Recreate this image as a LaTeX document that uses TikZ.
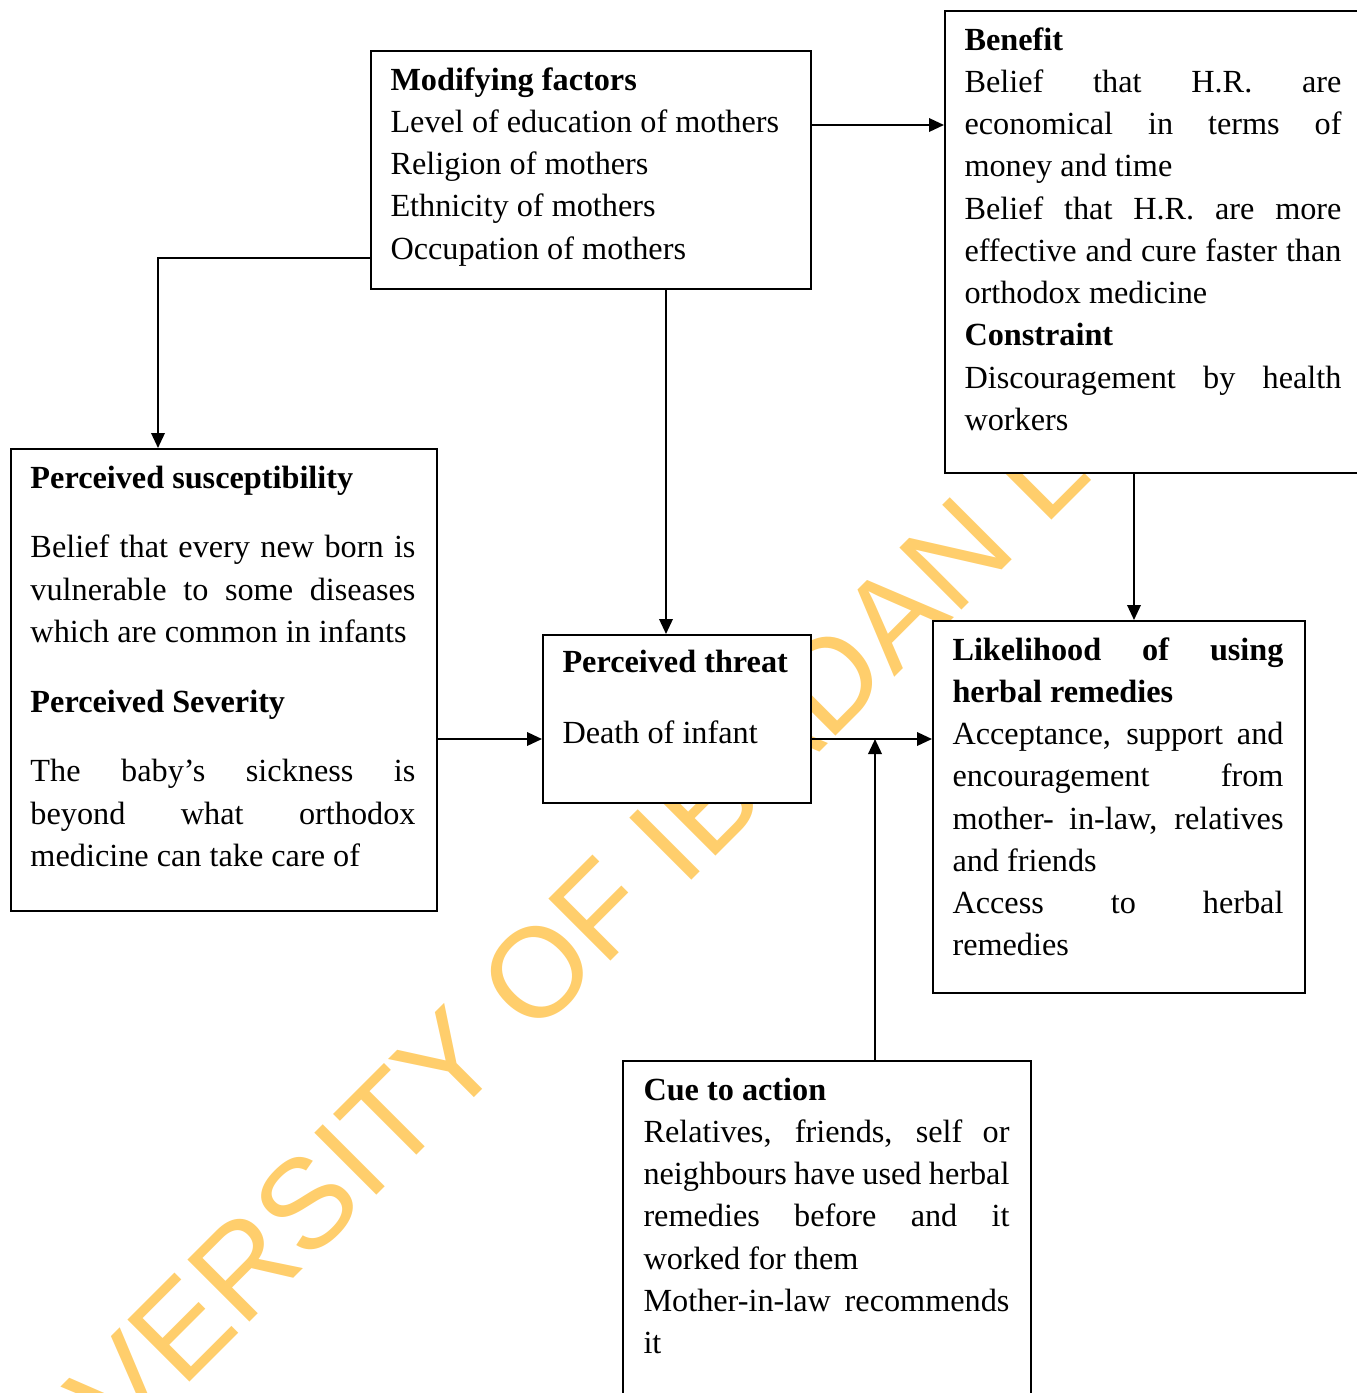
\documentclass[tikz,border=0pt]{standalone}
\usepackage{fontspec}
\setmainfont{Liberation Serif}
\newfontfamily\wmfont{Liberation Sans}
\usetikzlibrary{arrows.meta, positioning}
\definecolor{wmorange}{RGB}{255,206,108}
\setlength{\parindent}{0pt}
\tolerance=10000
\hbadness=10000
\hyphenpenalty=10000
\exhyphenpenalty=10000

\begin{document}
\begin{tikzpicture}[
    x=0.4pt, y=-0.4pt,
    box/.style={rectangle, draw, thick, fill=white, anchor=north west, inner sep=0},
    txt/.style={anchor=base west, inner sep=0, align=justify, font=\fontsize{12.9}{16.9}\selectfont},
    arrow/.style={thick, ->, >={Triangle[length=6pt, width=5.4pt]}},
    wmark/.style={text=wmorange, font=\wmfont\fontsize{51}{60}\selectfont, rotate=45, anchor=base west, inner sep=0}
]
\useasboundingbox (0,0) rectangle (1356,1393);

% watermark behind the boxes
\node[wmark] (wm) at (-33,1605) {UNIVERSITY OF IBADAN LIBRARY};

% boxes
\node[box, minimum width=176pt, minimum height=95.2pt] (mod) at (370,50) {};
\node[box, minimum width=172pt, minimum height=184.8pt] (ben) at (944,10) {};
\node[box, minimum width=170.4pt, minimum height=184.8pt] (sus) at (10,448) {};
\node[box, minimum width=107.2pt, minimum height=67.2pt] (thr) at (542,634) {};
\node[box, minimum width=148.8pt, minimum height=148.8pt] (lik) at (932,620) {};
\node[box, minimum width=163.2pt, minimum height=144pt] (cue) at (622,1060) {};

% texts
\node[txt, text width=165pt, align=flush left] (modtxt) at ([shift={(20,40)}]mod.north west) {%
\textbf{Modifying factors}\\
Level of education of mothers\\
Religion of mothers\\
Ethnicity of mothers\\
Occupation of mothers};

\node[txt, text width=150.8pt] (bentxt) at ([shift={(20,40)}]ben.north west) {%
\textbf{Benefit}\par
Belief that H.R. are\linebreak economical in terms of\linebreak money and time\par
Belief that H.R. are more\linebreak effective and cure faster than\linebreak orthodox medicine\par
\textbf{Constraint}\par
Discouragement by health\linebreak workers};

\node[txt, text width=154pt] (sustxt) at ([shift={(20,40)}]sus.north west) {%
\textbf{Perceived susceptibility}\par\vspace{11pt}
Belief that every new born is\linebreak vulnerable to some diseases\linebreak which are common in infants\par\vspace{11pt}
\textbf{Perceived Severity}\par\vspace{11pt}
The baby’s sickness is\linebreak beyond what orthodox\linebreak medicine can take care of};

\node[txt, text width=92pt] (thrtxt) at ([shift={(20,38)}]thr.north west) {%
\textbf{Perceived threat}\par\vspace{11.6pt}
Death of infant};

\node[txt, text width=132.4pt] (liktxt) at ([shift={(20,40)}]lik.north west) {%
\textbf{Likelihood of using\linebreak herbal remedies}\par
Acceptance, support and\linebreak encouragement from\linebreak mother- in-law, relatives\linebreak and friends\par
Access to herbal\linebreak remedies};

\node[txt, text width=146.4pt] (cuetxt) at ([shift={(21,40)}]cue.north west) {%
\textbf{Cue to action}\par
Relatives, friends, self or\linebreak neighbours have used herbal\linebreak remedies before and it\linebreak worked for them\par
Mother-in-law recommends\linebreak it};

% connectors
\coordinate (thrin) at ([shift={(0,20)}]thr.west);
\coordinate (modout) at ([shift={(296,0)}]mod.south west);
\coordinate (modr) at ([shift={(0,-45)}]mod.east);
\coordinate (benout) at ([shift={(190,0)}]ben.south west);
\coordinate (cueout) at ([shift={(48,0)}]cue.north);

\draw[arrow] ([shift={(0,-32)}]mod.south west) -| ([shift={(148,0)}]sus.north west);
\draw[arrow] (modout) -- (modout |- thr.north);
\draw[arrow] (modr) -- (modr -| ben.west);
\draw[arrow] (benout) -- (benout |- lik.north);
\draw[arrow] (sus.east |- thrin) -- (thrin);
\draw[arrow] (thr.east |- thrin) -- (lik.west |- thrin);
\draw[arrow] (cueout) -- (cueout |- thrin);

\end{tikzpicture}
\end{document}
